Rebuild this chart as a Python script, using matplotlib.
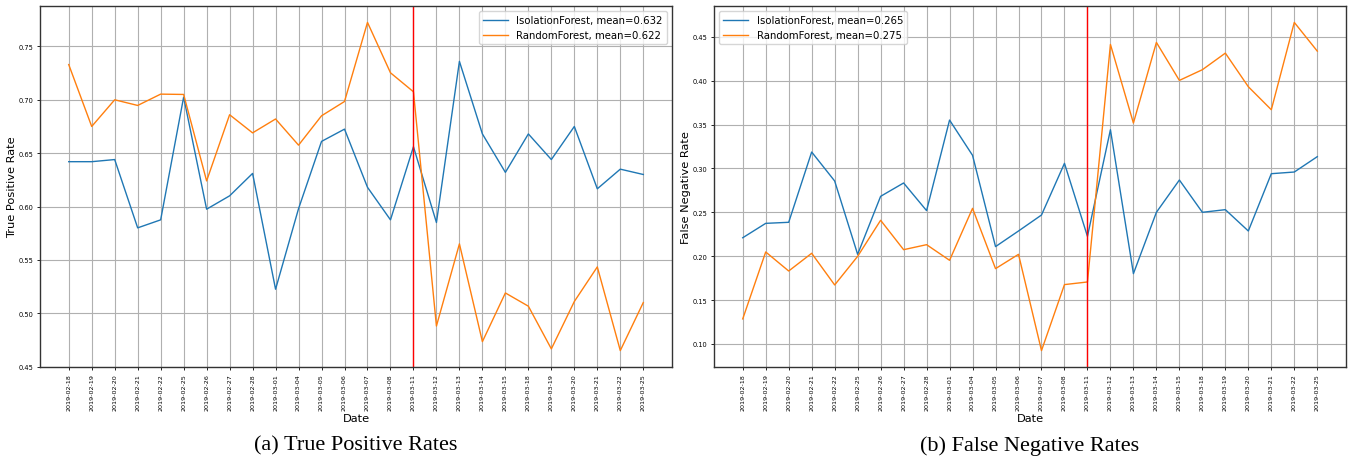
import matplotlib
matplotlib.use("Agg")
import matplotlib.pyplot as plt
import numpy as np

dates = [
    "2019-02-18", "2019-02-19", "2019-02-20", "2019-02-21", "2019-02-22",
    "2019-02-25", "2019-02-26", "2019-02-27", "2019-02-28", "2019-03-01",
    "2019-03-04", "2019-03-05", "2019-03-06", "2019-03-07", "2019-03-08",
    "2019-03-11", "2019-03-12", "2019-03-13", "2019-03-14", "2019-03-15",
    "2019-03-18", "2019-03-19", "2019-03-20", "2019-03-21", "2019-03-22",
    "2019-03-25",
]
split_date = "2019-03-11"

tpr_iforest = [
    0.642, 0.642, 0.644, 0.580, 0.5875, 0.7025, 0.5975, 0.610, 0.631, 0.5225,
    0.598, 0.661, 0.6725, 0.618, 0.5875, 0.656, 0.585, 0.736, 0.668, 0.632,
    0.668, 0.644, 0.675, 0.6166, 0.635, 0.630,
]
tpr_rforest = [
    0.733, 0.675, 0.700, 0.6947, 0.7053, 0.705, 0.624, 0.686, 0.669, 0.682,
    0.6575, 0.685, 0.6984, 0.7725, 0.7253, 0.7075, 0.488, 0.565, 0.4734, 0.519,
    0.5066, 0.4666, 0.511, 0.5434, 0.465, 0.510,
]
fnr_iforest = [
    0.221, 0.2374, 0.2386, 0.3187, 0.2857, 0.2021, 0.2682, 0.2834, 0.2519, 0.3551,
    0.3149, 0.2109, 0.2287, 0.2469, 0.3058, 0.2226, 0.3441, 0.1801, 0.250, 0.2868,
    0.250, 0.253, 0.2287, 0.294, 0.2959, 0.3134,
]
fnr_rforest = [
    0.1285, 0.2048, 0.1831, 0.2033, 0.1672, 0.1998, 0.2409, 0.2074, 0.2131, 0.1953,
    0.2545, 0.1858, 0.2021, 0.0924, 0.1676, 0.1706, 0.4413, 0.3517, 0.4436, 0.4003,
    0.4125, 0.4314, 0.3931, 0.3669, 0.4664, 0.4337,
]

panels = [
    ("True Positive Rate", "(a) True Positive Rates", tpr_iforest, tpr_rforest, "upper right"),
    ("False Negative Rate", "(b) False Negative Rates", fnr_iforest, fnr_rforest, "upper left"),
]

W, H = 1353, 464
fig = plt.figure(figsize=(W / 100, H / 100), dpi=100)

ax_boxes = [
    (40 / W, 1 - 368 / H, 632 / W, 361 / H),
    (714 / W, 1 - 368 / H, 632 / W, 361 / H),
]

x = np.arange(len(dates))
for box, (ylabel, caption, iso, rf, loc) in zip(ax_boxes, panels):
    ax = fig.add_axes(box)
    ax.plot(x, iso, color="#1f77b4", lw=1.0,
            label=f"IsolationForest, mean={np.mean(iso):.3f}")
    ax.plot(x, rf, color="#ff7f0e", lw=1.0,
            label=f"RandomForest, mean={np.mean(rf):.3f}")
    ax.axvline(dates.index(split_date), color="red", lw=1.0)

    ax.set_xticks(x)
    ax.set_xticklabels(dates, rotation=90, fontsize=4.6)
    ax.tick_params(axis="y", labelsize=4.8)
    ax.tick_params(length=2.5, width=0.6, pad=2)
    ax.grid(True, color="#b0b0b0", lw=0.8)
    for sp in ax.spines.values():
        sp.set_linewidth(1.0)
        sp.set_color("#333333")

    ax.set_xlabel("Date", fontsize=8.2, labelpad=2)
    ax.set_ylabel(ylabel, fontsize=8.2, labelpad=1)
    ax.legend(loc=loc, fontsize=7.3, handlelength=2.5)

    cx = box[0] + box[2] / 2
    fig.text(cx, 1 - 446 / H, caption, ha="center", va="center",
             fontsize=16, family="Liberation Serif")

fig.savefig("out.png", dpi=100)
